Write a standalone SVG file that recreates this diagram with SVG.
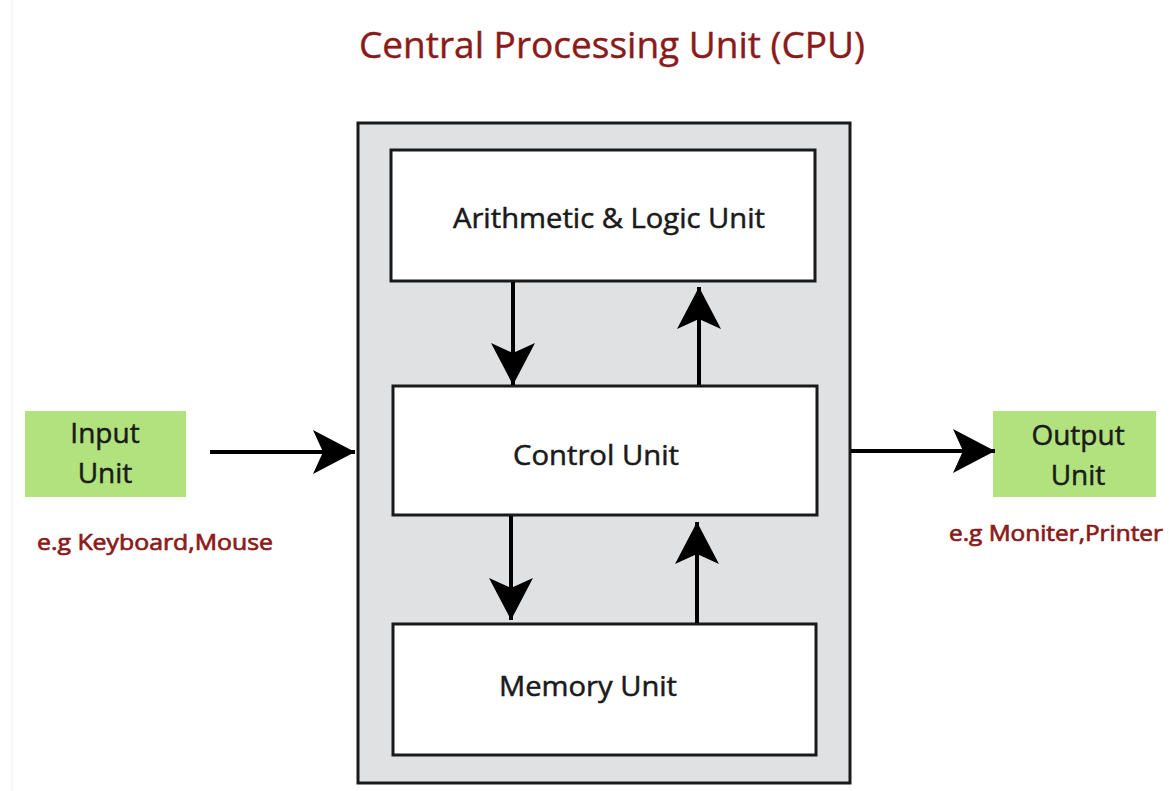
<svg xmlns="http://www.w3.org/2000/svg" width="1169" height="791" viewBox="0 0 1169 791">
<style>
.box{fill:#fff;stroke:#1a1a1a;stroke-width:3}
.cpu{fill:#dfe1e2;stroke:#1a1a1a;stroke-width:3}
.io{fill:#b1e27d}
.t{font-family:"Open Sans","Liberation Sans",sans-serif;fill:#1a1a1a;stroke:#1a1a1a;stroke-width:0.5;text-anchor:middle}
.red{font-family:"Open Sans","Liberation Sans",sans-serif;fill:#8b1a1a;stroke:#8b1a1a;stroke-width:0.4;text-anchor:middle}
.sm{stroke-width:0.7}
.ln{stroke:#000;stroke-width:4;fill:none}
</style>
<defs>
<marker id="ah" viewBox="0 0 44 44" refX="42" refY="22" markerWidth="44" markerHeight="44" markerUnits="userSpaceOnUse" orient="auto">
<path d="M0,0 L42,22 L0,44 L10,22 Z" fill="#000"/>
</marker>
</defs>
<rect width="1169" height="791" fill="#fff"/>
<line x1="12" y1="0" x2="12" y2="791" stroke="#eeeeee" stroke-width="1"/>
<text class="red" x="612" y="58" font-size="36" textLength="506" lengthAdjust="spacingAndGlyphs">Central Processing Unit (CPU)</text>
<g id="cpu"><rect class="cpu" x="358" y="123" width="492" height="660"/></g>
<g id="alu"><rect class="box" x="391" y="150" width="424" height="131"/>
<text class="t" x="609" y="228" font-size="27" textLength="312" lengthAdjust="spacingAndGlyphs">Arithmetic &amp; Logic Unit</text></g>
<g id="control"><rect class="box" x="393" y="386" width="424" height="129"/>
<text class="t" x="596" y="465" font-size="27" textLength="166" lengthAdjust="spacingAndGlyphs">Control Unit</text></g>
<g id="memory"><rect class="box" x="393" y="624" width="423" height="131"/>
<text class="t" x="588" y="696" font-size="27" textLength="178" lengthAdjust="spacingAndGlyphs">Memory Unit</text></g>
<g id="input"><rect class="io" x="25" y="411" width="161" height="86"/>
<text class="t" x="105" y="443" font-size="28">Input</text>
<text class="t" x="105" y="483" font-size="28">Unit</text>
<text class="red sm" x="155" y="550" font-size="22" textLength="236" lengthAdjust="spacingAndGlyphs">e.g Keyboard,Mouse</text></g>
<g id="output"><rect class="io" x="993" y="411" width="163" height="86"/>
<text class="t" x="1078" y="445" font-size="28">Output</text>
<text class="t" x="1078" y="485" font-size="28">Unit</text>
<text class="red sm" x="1056" y="541" font-size="22" textLength="214" lengthAdjust="spacingAndGlyphs">e.g Moniter,Printer</text></g>
<g id="connectors">
<line class="ln" x1="210" y1="452" x2="355" y2="452" marker-end="url(#ah)"/>
<line class="ln" x1="851" y1="451" x2="995" y2="451" marker-end="url(#ah)"/>
<line class="ln" x1="513" y1="282" x2="513" y2="385" marker-end="url(#ah)"/>
<line class="ln" x1="699" y1="385" x2="699" y2="287" marker-end="url(#ah)"/>
<line class="ln" x1="511" y1="516" x2="511" y2="620" marker-end="url(#ah)"/>
<line class="ln" x1="697" y1="623" x2="697" y2="522" marker-end="url(#ah)"/>
</g>
</svg>
